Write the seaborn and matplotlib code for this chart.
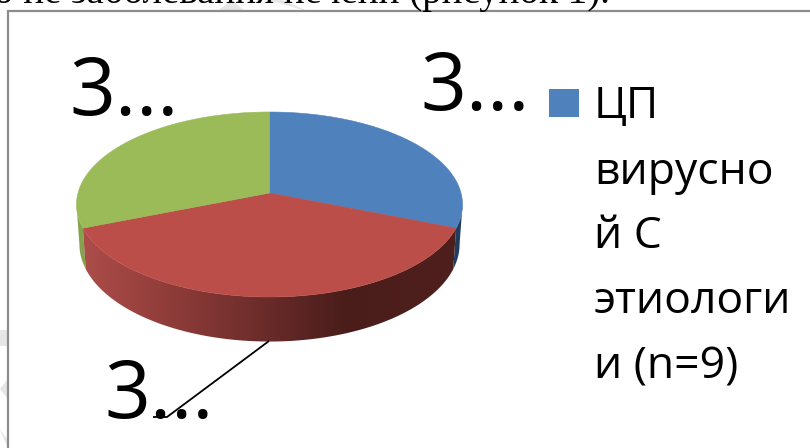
import numpy as np
import matplotlib
matplotlib.use("Agg")
import matplotlib.pyplot as plt
import seaborn as sns
from matplotlib.colors import LinearSegmentedColormap
from matplotlib.patches import Polygon, Rectangle

# Shares of the three patient groups, clockwise from twelve o'clock
slice_values = [31, 38, 31]
slice_labels = ["3...", "3...", "3..."]
legend_label = "ЦП\nвирусно\nй С\nэтиологи\nи (n=9)"
caption = "о не заболевания печени (рисунок 1)."

top_colors = ["#4F81BD", "#BC4E4A", "#9BBB59"]
side_colors = ["#1F3D5F", None, "#84A24B"]
sns.set_theme(style="white")
plt.rcParams["font.family"] = ["Open Sans", "DejaVu Sans"]
sns.set_palette(top_colors)

fig = plt.figure(figsize=(8.10, 4.48), dpi=100, facecolor="white")
ax = fig.add_axes([0, 0, 1, 1])
ax.set_xlim(0, 810)
ax.set_ylim(448, 0)
ax.axis("off")

# Perspective projection of the pie disc
CX, APEX_Y, RX = 269.5, 193.0, 191.5
TILT, RY, DEPTH, FLOOR_SCALE = 0.1243, 91.07, 39.0, 0.985


def rim(theta, drop=0.0):
    x, y = np.cos(theta), np.sin(theta)
    w = 1 + TILT * y
    scale = FLOOR_SCALE if drop else 1.0
    return CX + RX * scale * x / w, APEX_Y - RY * y / w + drop / w


shares = np.array(slice_values, dtype=float) / sum(slice_values)
edges = np.pi / 2 - 2 * np.pi * np.concatenate([[0], np.cumsum(shares)])

# Faint shapes of the page behind the chart box
for xs, ys in [([216, 232, 246], [12, 0, 12]), ([268, 282, 310], [0, 0, 12]),
               ([0, 8, 8, 0], [330, 330, 346, 346]), ([0, 7, 7], [389, 380, 398]),
               ([0, 8, 8], [430, 440, 448])]:
    ax.fill(xs, ys, color="#E6E6E6", lw=0)

ax.text(610, 3, caption, family="Liberation Serif", fontsize=28, ha="right",
        va="baseline", color="black")

# Chart box: white interior over the caption's descenders, grey edge
ax.add_patch(Rectangle((7.5, 11), 810, 448, fc="white", ec="#8C8C8C", lw=1.6, zorder=2))


def band_outline(start, stop):
    ts = np.linspace(start, stop, 160)
    xa, ya = rim(ts)
    xb, yb = rim(ts[::-1], DEPTH)
    return np.c_[np.r_[xa, xb], np.r_[ya, yb]]


# Rim of the disc: small side slivers, then the front slice lit from the left
widest = -np.arcsin(TILT)
ax.add_patch(Polygon(band_outline(edges[1], widest), fc=side_colors[0], ec="none", zorder=3))
ax.add_patch(Polygon(band_outline(np.pi - widest, edges[2] + 2 * np.pi),
                     fc=side_colors[2], ec="none", zorder=3))

shade = LinearSegmentedColormap.from_list(
    "rim", [(0, "#AC4D49"), (0.19, "#953F3C"), (0.38, "#7A3331"),
            (0.70, "#4A1D1B"), (1, "#4F1F1D")])
front = Polygon(band_outline(edges[1], edges[2]), transform=ax.transData, fc="none", ec="none")
ax.add_patch(front)
x_low, x_high = rim(edges[2])[0], rim(edges[1])[0]
ramp = ax.imshow(np.linspace(0, 1, 512)[None, :], cmap=shade, aspect="auto", zorder=3,
                 extent=(x_low, x_high, 360, 200), interpolation="bilinear")
ramp.set_clip_path(front)
ax.set_xlim(0, 810)
ax.set_ylim(448, 0)

# Top face of each slice
for i, color in enumerate(top_colors):
    ts = np.linspace(edges[i], edges[i + 1], 200)
    xs, ys = rim(ts)
    ax.fill(np.r_[CX, xs], np.r_[APEX_Y, ys], color=color, lw=0.4, zorder=4)

# Value labels and the leader of the front slice
for (x, y), label in zip([(420, 110), (104, 418), (69, 115)], slice_labels):
    ax.text(x, y, label, fontsize=58, va="baseline", ha="left", color="black", zorder=5)
ax.plot([269, 167, 153], [341, 417, 417], color="black", lw=1.3, zorder=6,
        solid_capstyle="butt")

# Legend entry
ax.add_patch(Rectangle((549, 89), 30, 28, fc=top_colors[0], ec="none", zorder=5))
for line, base in zip(legend_label.split("\n"), [118, 184, 248, 313, 378]):
    ax.text(594, base, line, fontsize=32, va="baseline", ha="left", color="black", zorder=5)

fig.savefig("out.png", dpi=100)
